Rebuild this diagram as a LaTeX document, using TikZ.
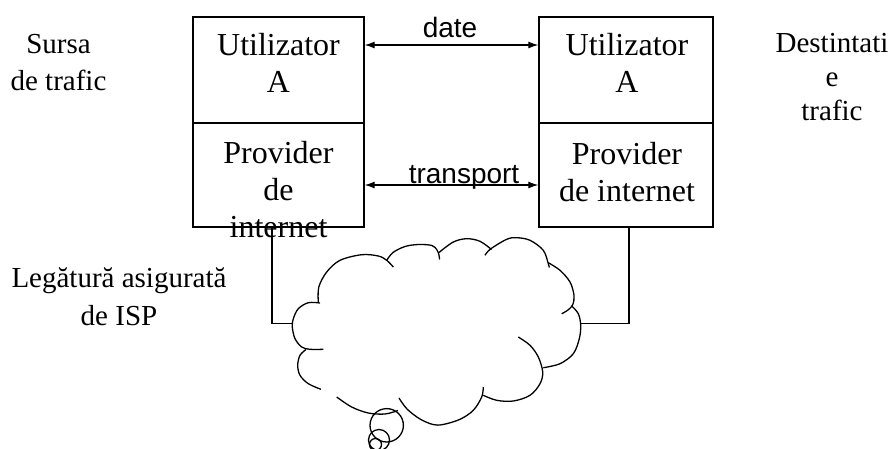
\documentclass[tikz,border=0pt]{standalone}
\usepackage{fontspec}
\setmainfont{Liberation Serif}
\newfontfamily\arialf{Liberation Sans}
\usetikzlibrary{arrows.meta}
% centred lines whose baseline is the first line
\newcommand\txtstack[1]{\begin{tabular}[t]{@{}c@{}}#1\end{tabular}}

\begin{document}
\begin{tikzpicture}[x=1pt, y=-1pt, line width=1.3pt,
  cell/.style={draw, inner sep=0pt, minimum width=#1},
  boxtxt/.style={anchor=base, inner sep=0pt, font=\fontsize{32}{37}\selectfont},
  lab/.style={anchor=base, inner sep=0pt, font=\fontsize{29}{37}\selectfont},
  sanslab/.style={anchor=base, inner sep=0pt, font=\arialf\fontsize{28}{32}\selectfont},
  biarrow/.style={{Latex[length=10pt,width=7pt]}-{Latex[length=10pt,width=7pt]}, line width=1.2pt},
  puff/.style={line width=1.3pt, smooth, tension=0.55}]

\useasboundingbox (0,0) rectangle (891,448);

% the two stacks
\node[cell=171pt, minimum height=106pt] (lt) at (278.5,70) {};
\node[cell=171pt, minimum height=104pt] (lb) at (278.5,175) {};
\node[cell=174pt, minimum height=106pt] (rt) at (626,70) {};
\node[cell=174pt, minimum height=104pt] (rb) at (626,175) {};

\node[boxtxt] (ltT) at (278.5,55) {\txtstack{Utilizator\\A}};
\node[boxtxt] (lbT) at (278.5,163) {\txtstack{Provider\\de\\internet}};
\node[boxtxt] (rtT) at (627,55) {\txtstack{Utilizator\\A}};
\node[boxtxt] (rbT) at (627,164) {\txtstack{Provider\\de internet}};

% side captions
\node[lab] (src) at (58.5,53) {\txtstack{Sursa\\de trafic}};
\node[lab, font=\fontsize{29}{34}\selectfont] (dst) at (832,52) {\txtstack{Destintati\\e\\trafic}};
\node[lab, font=\fontsize{29}{38}\selectfont] (isp) at (119,287) {\txtstack{Legătură asigurată\\de ISP}};

% peer exchanges
\draw[biarrow] ([yshift=25pt]lt.east) -- ([yshift=25pt]rt.west);
\draw[biarrow] ([yshift=-10pt]lb.east) -- ([yshift=-10pt]rb.west);
\node[sanslab] (dateL) at (450,37) {date};
\node[sanslab] (trL) at (464,183) {transport};

% attachment points on the cloud
\coordinate (cloudW) at (292.3,323.7);
\coordinate (cloudE) at (580.7,323.7);
\draw ([xshift=-6.5pt]lb.south) |- (cloudW);
\draw ([xshift=3pt]rb.south) |- (cloudE);

% cloud outline, one puff at a time
\draw plot[puff] coordinates {(318.3,302) (318.8,287) (326.7,272) (340,260.3) (361.7,254.7) (378.3,256) (386.7,260.3) (393.3,267)};
\draw plot[puff] coordinates {(386.7,260.3) (393,252.5) (405,246.5) (418.3,244.5) (432,245.5) (437,250) (439,255) (439.5,259.5)};
\draw plot[puff] coordinates {(439,252.5) (453.3,242) (466.7,238.7) (480,241.3) (491.5,249.5)};
\draw plot[puff] coordinates {(485,255.3) (490.5,249) (506.7,239.3) (516.7,237.7) (530,240.3) (543.3,250.3) (548.3,263.7) (549.3,267.5)};
\draw plot[puff] coordinates {(548.3,262.7) (560,270.3) (570,282) (574,295.3) (572.7,304.7) (568,310) (561.7,313.7)};
\draw plot[puff] coordinates {(571.7,306) (578.3,313.7) (580.7,325.3) (579.3,338.7) (573.3,353.7) (560,363.7) (543.3,367.7)};
\draw plot[puff] coordinates {(518.3,337) (530,345.3) (538.3,357) (542.7,372) (540,383.7) (530,395.3) (513.3,401) (496.7,400.3) (483.3,395.3)};
\draw plot[puff] coordinates {(483.3,387) (481.7,397) (473.3,410.3) (460,419.3) (443,424.5) (433,424.5) (420,419) (407,409) (399,398)};
\draw plot[puff] coordinates {(336.7,397) (351.7,407) (368.3,413) (385,414) (398,410.5)};
\draw plot[puff] coordinates {(306,349.5) (300,355.3) (297.7,365.3) (300,375.3) (308.3,383.7) (321,389.3)};
\draw plot[puff] coordinates {(320,303) (308.3,302.7) (298.3,308.7) (293.3,318.7) (292.3,327) (295,338.7) (301.7,347) (310,349.3) (323.3,349.3)};

% thought bubbles under the cloud
\draw (386.7,425.3) circle[radius=16.7pt];
\draw (379,440) circle[radius=10.5pt];
\draw (375.5,444.5) circle[radius=6pt];
\end{tikzpicture}
\end{document}
